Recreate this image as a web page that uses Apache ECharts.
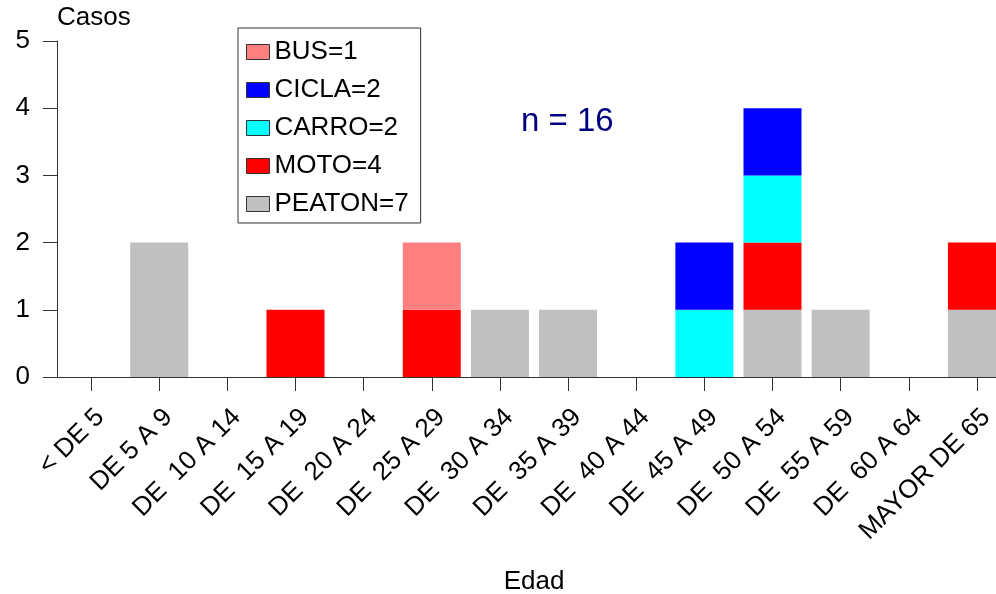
<!DOCTYPE html>
<html>
<head>
<meta charset="utf-8">
<script src="https://cdn.jsdelivr.net/npm/echarts@6/dist/echarts.min.js"></script>
<style>html,body{margin:0;padding:0;background:#fff}#c{width:996px;height:594px}</style>
</head>
<body>
<div id="c"></div>
<script>
const categories = ['< DE 5', 'DE 5 A 9', 'DE  10 A 14', 'DE  15 A 19', 'DE  20 A 24', 'DE  25 A 29', 'DE  30 A 34', 'DE  35 A 39', 'DE  40 A 44', 'DE  45 A 49', 'DE  50 A 54', 'DE  55 A 59', 'DE  60 A 64', 'MAYOR DE 65'];
const peaton = [0, 2, 0, 0, 0, 0, 1, 1, 0, 0, 1, 1, 0, 1];
const moto   = [0, 0, 0, 1, 0, 1, 0, 0, 0, 0, 1, 0, 0, 1];
const carro  = [0, 0, 0, 0, 0, 0, 0, 0, 0, 1, 1, 0, 0, 0];
const cicla  = [0, 0, 0, 0, 0, 0, 0, 0, 0, 1, 1, 0, 0, 0];
const bus    = [0, 0, 0, 0, 0, 1, 0, 0, 0, 0, 0, 0, 0, 0];
const legendNames = ['BUS=1', 'CICLA=2', 'CARRO=2', 'MOTO=4', 'PEATON=7'];
const yTicks = [0, 1, 2, 3, 4, 5];

const FONT = 'Liberation Sans, Arial, sans-serif';
const chart = echarts.init(document.getElementById('c'));

function mk(name, data, color) {
  return {
    name: name, type: 'bar', stack: 'total', data: data, barWidth: 58,
    itemStyle: { color: color },
    emphasis: { disabled: true },
    animation: false
  };
}

chart.setOption({
  animation: false,
  textStyle: { fontFamily: FONT },
  grid: { left: 57, right: -15, top: 41, bottom: 217, containLabel: false, outerBoundsMode: 'none' },
  legend: {
    data: legendNames,
    orient: 'vertical',
    left: 238, top: 28,
    itemWidth: 23, itemHeight: 15, itemGap: 8,
    padding: [9, 12, 4, 8],
    borderColor: '#333', borderWidth: 1,
    icon: 'rect',
    itemStyle: { borderColor: '#333', borderWidth: 1 },
    textStyle: { fontSize: 26, color: '#000', fontFamily: FONT, lineHeight: 30 },
    selectedMode: false
  },
  xAxis: {
    type: 'category', data: categories,
    name: 'Edad', nameLocation: 'middle', nameGap: 192,
    nameTextStyle: { fontSize: 26, color: '#000', fontFamily: FONT },
    axisLine: { show: true, lineStyle: { color: '#333', width: 1 } },
    axisTick: { show: true, alignWithLabel: true, length: 14, lineStyle: { color: '#333', width: 1 } },
    axisLabel: { rotate: 45, fontSize: 26, color: '#000', margin: 27, interval: 0, verticalAlign: 'top', fontFamily: FONT }
  },
  yAxis: {
    type: 'value', min: yTicks[0], max: yTicks[yTicks.length - 1], interval: 1,
    name: 'Casos', nameLocation: 'end', nameGap: 23,
    nameTextStyle: { fontSize: 26, color: '#000', align: 'left', verticalAlign: 'middle', fontFamily: FONT },
    axisLine: { show: true, lineStyle: { color: '#333', width: 1 } },
    axisTick: { show: true, length: 14, lineStyle: { color: '#333' } },
    axisLabel: { fontSize: 26, color: '#000', margin: 27, fontFamily: FONT },
    splitLine: { show: false }
  },
  graphic: [{
    type: 'text', left: 521, top: 105,
    style: { text: 'n = 16', fontSize: 33, fill: '#000080', fontFamily: FONT }
  }],
  series: [
    mk('PEATON=7', peaton, '#C0C0C0'),
    mk('MOTO=4', moto, '#FF0000'),
    mk('CARRO=2', carro, '#00FFFF'),
    mk('CICLA=2', cicla, '#0000FF'),
    mk('BUS=1', bus, '#FF8080')
  ]
});
</script>
</body>
</html>
